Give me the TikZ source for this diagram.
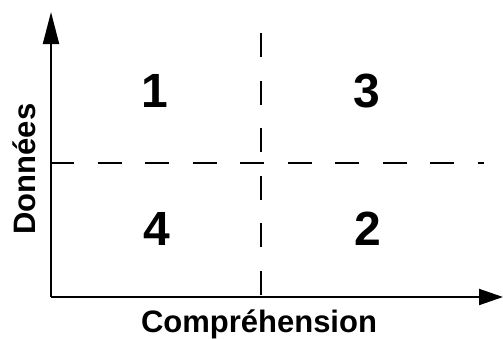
\documentclass[tikz,border=0pt]{standalone}
\usepackage{fontspec}
\setmainfont{Liberation Sans}
\usetikzlibrary{arrows.meta}
\tikzset{
  axis/.style={line width=2pt, draw=black},
  dashline/.style={line width=2pt, draw=black, dash pattern=on 24pt off 23.5pt},
  quadnum/.style={font=\bfseries\fontsize{48}{48}\selectfont, inner sep=0pt, anchor=base},
  axlabel/.style={font=\bfseries\fontsize{31}{31}\selectfont, inner sep=0pt, anchor=base}
}
\begin{document}
\begin{tikzpicture}[x=1pt,y=-1pt]
\useasboundingbox (0,0) rectangle (503,338);
\coordinate (o) at (51,297);
\coordinate (ytip) at (51,12);
\coordinate (xtip) at (503,297);
\coordinate (vtop) at (261,33);
\coordinate (vbot) at (261,297);
\coordinate (hleft) at (50,163);
\coordinate (hright) at (484,163);
\draw[dashline] (vtop) -- (vbot);
\draw[dashline, dash phase=0pt] (hleft) -- (hright);
\draw[axis, -{Triangle[length=32pt,width=16pt]}] (o) -- (ytip);
\draw[axis, -{Triangle[length=24pt,width=16pt]}] (o) -- (xtip);
\node[quadnum] (q1) at (155,107) {1};
\node[quadnum] (q3) at (366.5,107) {3};
\node[quadnum] (q4) at (157,245) {4};
\node[quadnum] (q2) at (367.5,245) {2};
\node[axlabel] (xl) at (259,332) {Compréhension};
\node[axlabel, rotate=90] (yl) at (35,169) {Données};
\end{tikzpicture}
\end{document}
